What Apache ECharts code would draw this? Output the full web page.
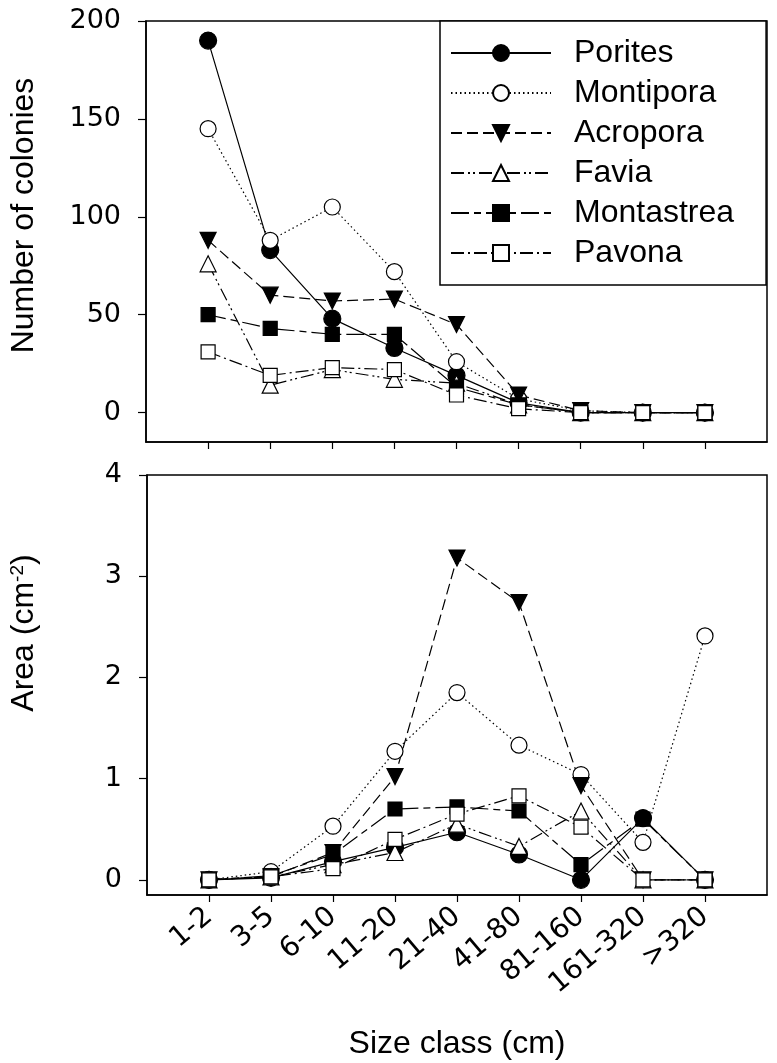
<!DOCTYPE html>
<html>
<head>
<meta charset="utf-8">
<script src="https://cdn.jsdelivr.net/npm/echarts@6/dist/echarts.min.js"></script>
<style>
html,body{margin:0;padding:0;background:#fff;}
#chart{width:777px;height:1063px;}
</style>
</head>
<body>
<div id="chart"></div>
<script>
// ---- data ----
const categories = ['1-2','3-5','6-10','11-20','21-40','41-80','81-160','161-320','>320'];
const speciesNames = ['Porites','Montipora','Acropora','Favia','Montastrea','Pavona'];

const coloniesPorites    = [190, 83, 48, 33, 19, 5, 0, 0, 0];
const coloniesMontipora  = [145, 88, 105, 72, 26, 7, 1, 0, 0];
const coloniesAcropora   = [88, 60, 57, 58, 45, 9, 1, 0, 0];
const coloniesFavia      = [76, 14, 22, 17, 15, 4, 0, 0, 0];
const coloniesMontastrea = [50, 43, 40, 40, 13, 4, 0, 0, 0];
const coloniesPavona     = [31, 19, 23, 22, 9, 2, 0, 0, 0];

const areaPorites    = [0, 0.02, 0.18, 0.32, 0.47, 0.25, 0, 0.61, 0];
const areaMontipora  = [0, 0.08, 0.53, 1.27, 1.85, 1.33, 1.04, 0.37, 2.41];
const areaAcropora   = [0, 0.03, 0.27, 1.02, 3.18, 2.74, 0.93, 0, 0];
const areaFavia      = [0, 0.03, 0.15, 0.27, 0.55, 0.33, 0.68, 0, 0];
const areaMontastrea = [0, 0.04, 0.25, 0.70, 0.72, 0.68, 0.15, 0.60, 0];
const areaPavona     = [0, 0.03, 0.11, 0.40, 0.65, 0.83, 0.52, 0, 0];

const coloniesTicks = [0, 50, 100, 150, 200];
const areaTicks = [0, 1, 2, 3, 4];

// ---- styles ----
const FONT = '"Liberation Sans", Arial, sans-serif';
const NUMFONT = '"DejaVu Sans", sans-serif';
const styles = {
  Porites:    {symbol:'circle',   rot:0,   fill:'#000', size:17, dash:'solid'},
  Montipora:  {symbol:'circle',   rot:0,   fill:'#fff', size:16, dash:[1.5,3]},
  Acropora:   {symbol:'triangle', rot:180, fill:'#000', size:16, dash:[11,5]},
  Favia:      {symbol:'triangle', rot:0,   fill:'#fff', size:16, dash:[13,4,2,3,2,4]},
  Montastrea: {symbol:'rect',     rot:0,   fill:'#000', size:14, dash:[18,5,7,5]},
  Pavona:     {symbol:'rect',     rot:0,   fill:'#fff', size:14, dash:[13,4,2,4]}
};
const topData = [coloniesPorites, coloniesMontipora, coloniesAcropora, coloniesFavia, coloniesMontastrea, coloniesPavona];
const botData = [areaPorites, areaMontipora, areaAcropora, areaFavia, areaMontastrea, areaPavona];

function mkSeries(name, vals, idx) {
  const s = styles[name];
  return {
    name: name, type: 'line', xAxisIndex: idx, yAxisIndex: idx,
    data: vals.map((v, i) => [i + 1, v]),
    symbol: s.symbol, symbolRotate: s.rot, symbolSize: s.size,
    lineStyle: {color:'#000', width:1.2, type: s.dash},
    itemStyle: {color: s.fill, borderColor:'#000', borderWidth:1.2, opacity:1},
    emphasis: {disabled:true}, animation:false
  };
}
const series = [];
speciesNames.forEach((n, i) => series.push(mkSeries(n, topData[i], 0)));
speciesNames.forEach((n, i) => series.push(mkSeries(n, botData[i], 1)));

const tickPositions = categories.map((c, i) => i + 1);
function xAxis(idx, withLabels) {
  return {
    type:'value', gridIndex: idx, min:0, max:10,
    axisLine:{show:true, onZero:false, lineStyle:{color:'#000', width:1.5}},
    axisTick:{show:true, inside:false, length:7, customValues: tickPositions, lineStyle:{color:'#000', width:1.2}},
    axisLabel:{show: withLabels, customValues: tickPositions, rotate:40, margin:18,
      formatter: v => categories[Math.round(v) - 1] || '', color:'#000', fontSize:28, fontFamily:NUMFONT},
    splitLine:{show:false},
    name: withLabels ? 'Size class (cm)' : '', nameLocation:'middle', nameGap:133,
    nameTextStyle:{color:'#000', fontSize:32, fontFamily:FONT}
  };
}
function yAxis(idx, min, max, ticks, name, shift) {
  return {
    type:'value', gridIndex: idx, min:min, max:max,
    axisLine:{show:true, onZero:false, lineStyle:{color:'#000', width:1.5}},
    axisTick:{show:true, inside:false, length:8, customValues: ticks, lineStyle:{color:'#000', width:1.2}},
    axisLabel:{customValues: ticks, color:'#000', fontSize:27, fontFamily:NUMFONT, margin:25},
    splitLine:{show:false},
    name: name, nameLocation:'middle', nameGap:106, nameRotate:90,
    nameTextStyle:{color:'#000', fontSize:32, fontFamily:FONT, padding:[0,0,0,shift],
      rich:{sup:{fontSize:19, verticalAlign:'top', padding:[0,0,14,0], fontFamily:FONT, color:'#000'}}}
  };
}

const option = {
  backgroundColor:'#fff',
  animation:false,
  grid:[
    {left:143, top:21, width:624, height:421, show:true, borderColor:'#000', borderWidth:1.5, backgroundColor:'transparent'},
    {left:143, top:475, width:624, height:420, show:true, borderColor:'#000', borderWidth:1.5, backgroundColor:'transparent'}
  ],
  xAxis:[xAxis(0, false), xAxis(1, true)],
  yAxis:[
    yAxis(0, -15, 200, coloniesTicks, 'Number of colonies', 32),
    yAxis(1, -0.15, 4, areaTicks, 'Area (cm{sup|-2})', 104)
  ],
  legend:{
    data: speciesNames, orient:'vertical', left:440, top:21,
    itemWidth:100, itemHeight:20, itemGap:8,
    padding:[16, 32, 16, 10],
    borderColor:'#000', borderWidth:1.5, backgroundColor:'#fff',
    selectedMode:false,
    textStyle:{color:'#000', fontSize:32, fontFamily:FONT, lineHeight:30, padding:[0,0,0,18]}
  },
  series: series
};
const chart = echarts.init(document.getElementById('chart'), null, {renderer:'canvas'});
chart.setOption(option);
</script>
</body>
</html>
